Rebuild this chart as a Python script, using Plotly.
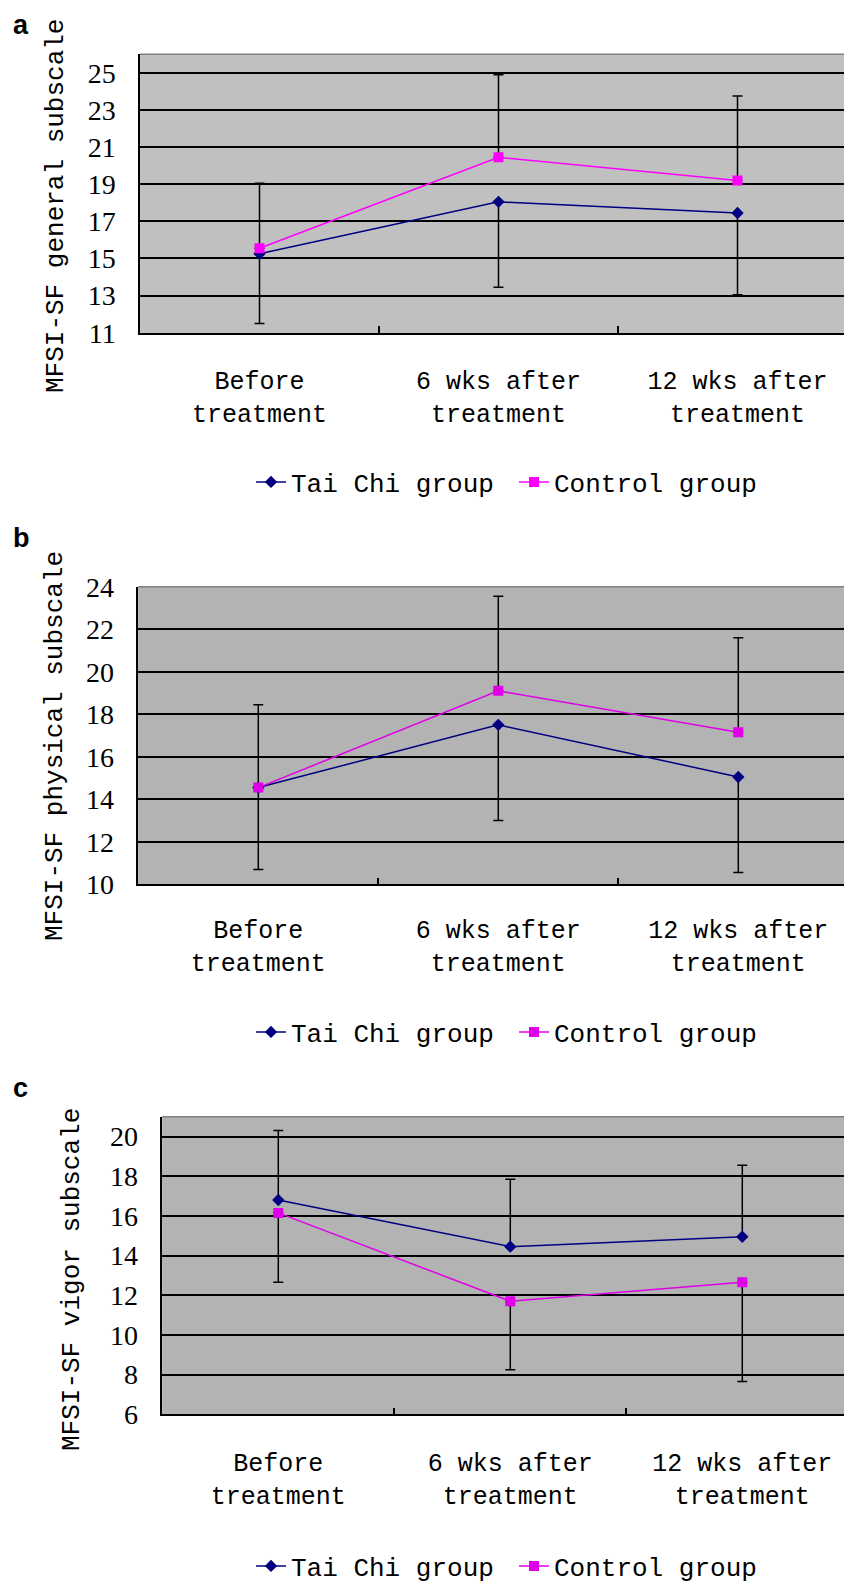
import plotly.graph_objects as go

# ---------------- data ----------------
categories = ["Before<br>treatment", "6 wks after<br>treatment", "12 wks after<br>treatment"]
series_names = ["Tai Chi group", "Control group"]

y_titles = ["MFSI-SF general subscale", "MFSI-SF physical subscale", "MFSI-SF vigor subscale"]
panel_letters = ["a", "b", "c"]

# panel a (general)
a_taichi = [15.25, 18.05, 17.45]
a_control = [15.55, 20.45, 19.2]
a_taichi_err_minus = [3.75, 4.6, 4.4]
a_control_err_plus = [3.5, 4.45, 4.55]

# panel b (physical)
b_taichi = [14.55, 17.5, 15.05]
b_control = [14.55, 19.1, 17.15]
b_taichi_err_minus = [3.85, 4.5, 4.5]
b_control_err_plus = [3.9, 4.45, 4.45]

# panel c (vigor)
c_taichi = [16.8, 14.45, 14.95]
c_control = [16.15, 11.7, 12.65]
c_taichi_err_plus = [3.5, 3.4, 3.6]
c_control_err_minus = [3.5, 3.45, 5.0]

y_ranges = [[11, 26], [10, 24], [6, 21]]
y_tick0 = [11, 10, 6]

# ---------------- layout helpers ----------------
W, HF = 852, 1640          # figure size (extra room below the visible page)
OFF = 8                    # page offset of the plot div
MONO = "Liberation Mono"
SERIF = "Liberation Serif"
NAVY = "#000080"


def fy(py):
    return 1 - (py - OFF) / HF


def fx(px):
    return (px - OFF) / W


# pixel geometry (page coordinates) of plot areas
geom = [
    dict(left=140, top=54.3, bottom=332.7, catw=239, bg="#C0C0C0", mag="#FF00FF",
         title_x=56, title_y=206, letter_y=None, legend_y=482),
    dict(left=138.3, top=586.7, bottom=884.3, catw=240, bg="#B3B3B3", mag="#E000E8",
         title_x=55, title_y=746, letter_y=538, legend_y=1032),
    dict(left=162.3, top=1116.7, bottom=1414.3, catw=232, bg="#B3B3B3", mag="#E000E8",
         title_x=72, title_y=1280, letter_y=1088, legend_y=1566),
]
x_standoff = [25, 22, 25]


def err(vals, plus):
    zeros = [0] * len(vals)
    if plus:
        return dict(type="data", symmetric=False, array=vals, arrayminus=zeros,
                    color="black", thickness=1.5, width=5)
    return dict(type="data", symmetric=False, array=zeros, arrayminus=vals,
                color="black", thickness=1.5, width=5)


panel_data = [
    (a_taichi, err(a_taichi_err_minus, False), a_control, err(a_control_err_plus, True)),
    (b_taichi, err(b_taichi_err_minus, False), b_control, err(b_control_err_plus, True)),
    (c_taichi, err(c_taichi_err_plus, True), c_control, err(c_control_err_minus, False)),
]

fig = go.Figure()
layout = dict(
    template="none",
    width=W, height=HF, margin=dict(l=0, r=0, t=0, b=0, autoexpand=False),
    paper_bgcolor="white", plot_bgcolor="#B3B3B3", showlegend=True,
    shapes=[], annotations=[],
)

for i, (tc, tc_err, ct, ct_err) in enumerate(panel_data):
    g = geom[i]
    sfx = "" if i == 0 else str(i + 1)
    xa, ya = "x" + sfx, "y" + sfx
    leg = "legend" + sfx
    fig.add_trace(go.Scatter(
        x=categories, y=tc, name=series_names[0], mode="lines+markers",
        line=dict(color=NAVY, width=1.5),
        marker=dict(symbol="diamond", size=9.5, color=NAVY),
        error_y=tc_err, xaxis=xa, yaxis=ya, legend=leg,
    ))
    fig.add_trace(go.Scatter(
        x=categories, y=ct, name=series_names[1], mode="lines+markers",
        line=dict(color=g["mag"], width=1.5),
        marker=dict(symbol="square", size=10, color=g["mag"]),
        error_y=ct_err, xaxis=xa, yaxis=ya, legend=leg,
    ))
    right_fig = (g["left"] - OFF) + 3 * g["catw"]
    xmax = 2.5 - (right_fig - W) / g["catw"]
    layout["xaxis" + sfx] = dict(
        domain=[fx(g["left"]), 1], anchor=ya, type="category", automargin=False,
        range=[-0.5, xmax], tickson="boundaries", ticks="inside", ticklen=7,
        tickcolor="black", tickwidth=1.5, showline=True, linecolor="black",
        linewidth=1.5, showgrid=False, zeroline=False,
        tickfont=dict(family=MONO, size=25, color="black"),
        ticklabelstandoff=x_standoff[i],
    )
    layout["yaxis" + sfx] = dict(
        domain=[fy(g["bottom"]), fy(g["top"])], anchor=xa, automargin=False,
        range=y_ranges[i], tick0=y_tick0[i], dtick=2, ticks="",
        showline=True, linecolor="black", linewidth=1.5,
        showgrid=True, gridcolor="black", gridwidth=1.5, zeroline=False,
        tickfont=dict(family=SERIF, size=28, color="black"), ticklabelstandoff=17,
    )
    layout["shapes"].append(dict(
        type="rect", xref=xa + " domain", yref=ya + " domain", x0=0, x1=1, y0=0, y1=1,
        fillcolor=g["bg"], line=dict(width=0), layer="below",
    ))
    layout["shapes"].append(dict(
        type="line", xref=xa + " domain", yref=ya + " domain", x0=0, x1=1, y0=1, y1=1,
        line=dict(color="#808080", width=1.5), layer="above",
    ))
    layout["annotations"].append(dict(
        text=y_titles[i], xref="paper", yref="paper", x=fx(g["title_x"]),
        y=fy(g["title_y"]), xanchor="center", yanchor="middle", textangle=-90,
        showarrow=False, font=dict(family=MONO, size=26, color="black"),
    ))
    if g["letter_y"] is None:
        letter = dict(y=1, yanchor="top")
    else:
        letter = dict(y=fy(g["letter_y"]), yanchor="middle")
    layout["annotations"].append(dict(
        text="<b>%s</b>" % panel_letters[i], xref="paper", yref="paper", x=fx(11),
        xanchor="left", showarrow=False,
        font=dict(family="Liberation Sans", size=27, color="black"), **letter,
    ))
    layout[leg] = dict(
        orientation="h", x=fx(251), xanchor="left", y=fy(g["legend_y"]),
        yanchor="middle", bgcolor="rgba(0,0,0,0)", borderwidth=0,
        entrywidth=218, entrywidthmode="pixels",
        font=dict(family=MONO, size=26, color="black"),
    )

fig.update_layout(**layout)
fig.write_html("out.html")
